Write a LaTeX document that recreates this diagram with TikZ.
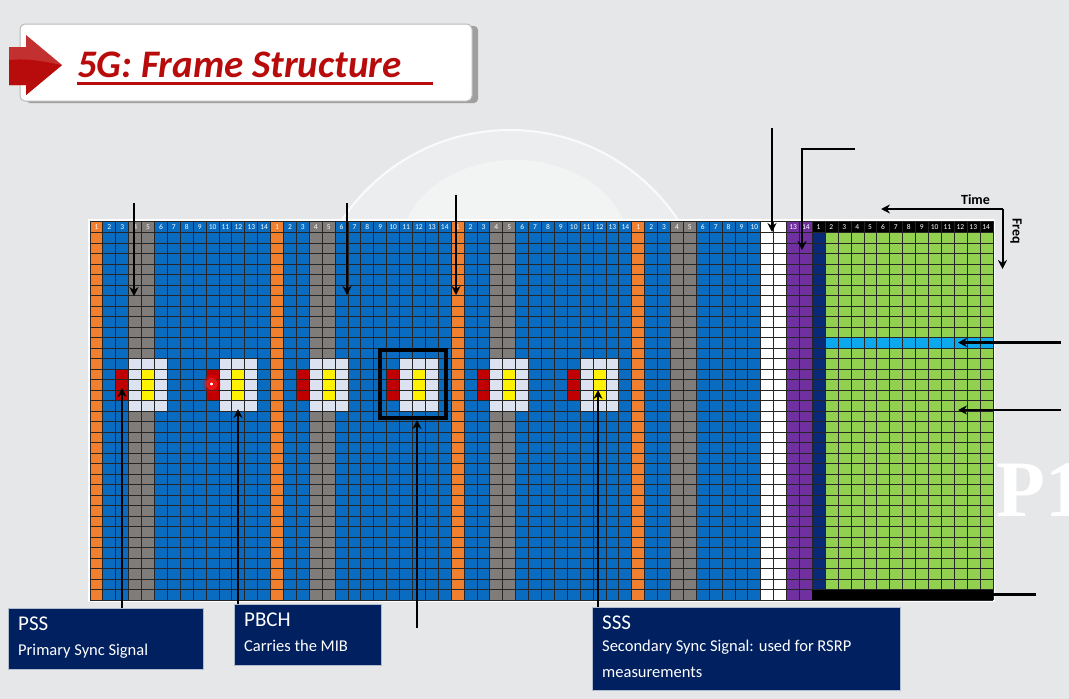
\documentclass[tikz,border=0pt]{standalone}
\usepackage{fontspec}
\setmainfont{Carlito}
\newfontfamily\bgserif{Liberation Serif}
\usetikzlibrary{positioning,arrows.meta,calc,shadows}
\definecolor{bgGrey}{HTML}{E6E7E9}
\definecolor{slotBlue}{HTML}{0A6CC0}
\definecolor{symOrange}{HTML}{F08030}
\definecolor{symGrey}{HTML}{807C7A}
\definecolor{symPurple}{HTML}{7030A0}
\definecolor{symNavy}{HTML}{0A2A78}
\definecolor{symGreen}{HTML}{92D050}
\definecolor{symSky}{HTML}{0CA8EE}
\definecolor{ssRed}{HTML}{C00000}
\definecolor{ssPale}{HTML}{DCE2F0}
\definecolor{boxNavy}{HTML}{002060}
\definecolor{titleRed}{HTML}{B80C0C}

\begin{document}
\begin{tikzpicture}[
  x=1pt,y=-1pt,
  >={Stealth[length=9pt,width=9pt]},
  ptr/.style={->,line width=2.6pt,black},
  ptrline/.style={line width=2.6pt,black},
  labelbox/.style={rectangle,fill=boxNavy,draw=white!70!boxNavy,line width=0.4pt,anchor=north west,
                   inner sep=0pt,text=white},
  boxhead/.style={font=\fontsize{21}{24}\selectfont,text=white,anchor=north west,inner sep=0pt},
  boxtext/.style={font=\fontsize{16.5}{26}\selectfont,text=white,anchor=north west,inner sep=0pt,align=left},
  symnum/.style={font=\fontsize{7.5}{8}\selectfont,inner sep=0pt,text=white}
]
  \useasboundingbox (0,0) rectangle (1069,699);
  \fill[bgGrey] (0,0) rectangle (1069,699);

  % ---------- faint background behind the grid ----------
  \begin{scope}
    \clip (300,100) rectangle (720,225);
    \fill[white,opacity=0.25] (510,332) circle (202);
    \draw[white,opacity=0.8,line width=2pt] (510,332) circle (202);
    \fill[white,opacity=0.35] (515,250) ellipse (115 and 90);
  \end{scope}
  \node[font=\bgserif\bfseries\fontsize{80}{80}\selectfont,text=white,anchor=base west,inner sep=0pt] (bgtext) at (996,516) {P1};

  % ---------- title card ----------
  \fill[gray!75,rounded corners=4pt] (26,26) rectangle (478,103);
  \filldraw[fill=white,rounded corners=5pt,draw=gray!55,line width=1pt] (20,24) rectangle (472,101);
  \fill[titleRed!85!white] (9,47) -- (26,47) -- (26,35) -- (62,65) -- (26,95) -- (26,85) -- (9,85) -- cycle;
  \fill[titleRed] (9,60) .. controls (30,58) and (45,62) .. (62,65) -- (26,95) -- (26,85) -- (9,85) -- cycle;
  \node[font=\bfseries\itshape\fontsize{39}{40}\selectfont,text=titleRed,anchor=base west,inner sep=0pt] (title) at (77,77) {5G: Frame Structure};
  \draw[titleRed,line width=2.4pt] (77,83.5) -- (433,83.5);

  % ---------- grid: column fills ----------
  \def\colw{12.9}
  \fill[white] (88,219) rectangle (995,602);
  \fill[slotBlue] (90,221) rectangle (812,600);
  \fill[symNavy] (812,221) rectangle (825,600);
  \fill[symGreen] (825,221) rectangle (993,600);
  \foreach \s in {0,1,2,3}{
    \fill[symOrange] ({90+\s*14*\colw},221) rectangle ++(\colw,379);
    \fill[symGrey] ({90+(\s*14+3)*\colw},221) rectangle ++({2*\colw},379);
  }
  \fill[white] ({90+52*\colw},221) rectangle ++({2*\colw},379);
  \fill[symPurple] ({90+54*\colw},221) rectangle ++({2*\colw},379);
  \fill[black] (812,221) rectangle (993,232.5);
  \fill[symSky] (825,337.5) rectangle (993,348);

  % ---------- SS blocks ----------
  \foreach \c in {2,9,16,23,30,37}{
    \fill[ssRed] ({90+\c*\colw},369) rectangle ++(\colw,31.5);
    \fill[ssPale] ({90+(\c+1)*\colw},358.5) rectangle ++({3*\colw},52.5);
    \fill[yellow] ({90+(\c+2)*\colw},369) rectangle ++(\colw,31.5);
  }

  % ---------- grid: lines ----------
  \foreach \c in {0,...,70}
    \draw[black!85,line width=0.9pt] ({90+\c*\colw},221) -- ({90+\c*\colw},600);
  \foreach \r in {0,...,35}
    \draw[black!85,line width=0.9pt] (90,{232.5+\r*10.5}) -- (993,{232.5+\r*10.5});
  \draw[black!85,line width=0.9pt] (90,221) -- (993,221);
  \fill[black] (812,589.5) rectangle (993,600);

  % ---------- symbol numbers ----------
  \foreach \s in {0,1,2}
    \foreach \n in {1,...,14}
      \node[symnum] (num\s-\n) at ({90+(\s*14+\n-0.5)*\colw},227) {\n};
  \foreach \n in {1,...,10}
    \node[symnum] (numd-\n) at ({90+(42+\n-0.5)*\colw},227) {\n};
  \node[symnum] (numd-13) at ({90+54.5*\colw},227) {13};
  \node[symnum] (numd-14) at ({90+55.5*\colw},227) {14};
  \foreach \n in {1,...,14}
    \node[symnum] (numf-\n) at ({812+(\n-0.5)*\colw},227) {\n};

  % ---------- pointer dot ----------
  \fill[red,opacity=0.3] (211.5,384) circle (9);
  \fill[red!80!white,opacity=0.5] (211.5,384) circle (6);
  \draw[red,fill=white,line width=1.2pt] (211.5,384) circle (2.3);

  % ---------- thick frame ----------
  \node[draw=black,line width=4pt,minimum width=66pt,minimum height=68pt,inner sep=0pt] (frame) at (413,384) {};

  % ---------- label boxes ----------
  \node[labelbox,minimum width=195pt,minimum height=61pt] (pss) at (8,608) {};
  \node[boxhead] (psshead) at (18,617) {PSS};
  \node[boxtext] (psstext) at (18,644) {Primary Sync Signal};
  \node[labelbox,minimum width=147pt,minimum height=61pt] (pbch) at (234,604) {};
  \node[boxhead] (pbchhead) at (244,613) {PBCH};
  \node[boxtext] (pbchtext) at (244,640) {Carries the MIB};
  \node[labelbox,minimum width=308pt,minimum height=83pt] (sss) at (592,607) {};
  \node[boxhead] (ssshead) at (602,616) {SSS};
  \node[boxtext] (ssstext) at (602,640) {Secondary Sync Signal: used for RSRP\\measurements};

  % ---------- axes ----------
  \node[font=\bfseries\fontsize{14}{14}\selectfont,inner sep=0pt] (time) at (975.5,200) {Time};
  \node[font=\bfseries\fontsize{14}{14}\selectfont,inner sep=0pt,rotate=-90] (freq) at (1016,231) {Freq};
  \coordinate (axiscorner) at (1002.5,209);
  \coordinate (timeend) at (881,209);
  \coordinate (freqend) at (1002.5,269);
  \draw[ptr,line width=2pt] (axiscorner) -- (timeend);
  \draw[ptr,line width=2pt] (axiscorner) -- (freqend);

  % ---------- arrows ----------
  \foreach \name/\x/\ya/\yb in {a/134/203/296,b/347/203/295,c/456/195/295,d/772/128/232}{
    \coordinate (\name top) at (\x,\ya);
    \coordinate (\name tip) at (\x,\yb);
    \draw[ptr] (\name top) -- (\name tip);
  }
  \coordinate (bendstart) at (855,149);
  \coordinate (bendtip) at (802,250);
  \draw[ptr] (bendstart) -| (bendtip);

  \coordinate (pssup) at (122,388);
  \coordinate (pbchup) at (238,409);
  \coordinate (sssup) at (598,390);
  \coordinate (framefoot) at (417,628);
  \draw[ptr] (pss.north -| pssup) -- (pssup);
  \draw[ptr] (pbch.north -| pbchup) -- (pbchup);
  \draw[ptr] (sss.north -| sssup) -- (sssup);
  \draw[ptr] (framefoot) -- (frame.south -| framefoot);

  \coordinate (skyfoot) at (1061,342.5);
  \coordinate (skytip) at (958,342.5);
  \coordinate (greenfoot) at (1061,410);
  \coordinate (greentip) at (958,410);
  \draw[ptr] (skyfoot) -- (skytip);
  \draw[ptr] (greenfoot) -- (greentip);

  \coordinate (ctrlstart) at (993,594.5);
  \coordinate (ctrlend) at (1036,594.5);
  \draw[ptrline] (ctrlstart) -- (ctrlend);
\end{tikzpicture}
\end{document}
